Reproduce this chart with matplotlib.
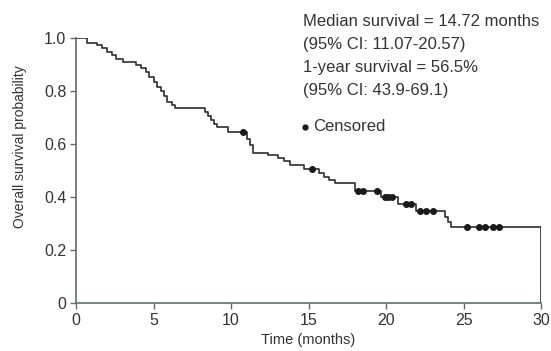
import numpy as np
import matplotlib
matplotlib.use("Agg")
import matplotlib.pyplot as plt

plt.rcParams['font.family'] = ['Liberation Sans', 'DejaVu Sans']

# Kaplan-Meier step curve (time in months, survival after each step)
step_t = [0, 0.7, 1.35, 1.7, 2.0, 2.3, 2.6, 3.0, 3.9, 4.2, 4.5, 4.7, 5.0, 5.2,
          5.5, 5.7, 5.9, 6.2, 6.4, 8.3, 8.5, 8.7, 8.9, 9.1, 9.8, 11.0, 11.2,
          11.4, 12.4, 13.0, 13.4, 13.8, 14.72, 15.7, 16.0, 16.3, 16.7, 18.0,
          19.7, 20.8, 21.9, 23.8, 24.0, 24.2, 30.0]
step_s = [1.0, 0.981, 0.972, 0.962, 0.947, 0.936, 0.922, 0.91, 0.898, 0.886,
          0.873, 0.854, 0.835, 0.816, 0.798, 0.779, 0.760, 0.747, 0.735, 0.72,
          0.705, 0.69, 0.677, 0.665, 0.645, 0.62, 0.596, 0.567, 0.557, 0.546,
          0.534, 0.522, 0.505, 0.49, 0.477, 0.465, 0.453, 0.424, 0.40, 0.375,
          0.345, 0.326, 0.307, 0.287, 0.0]
censor_t = [10.8, 15.2, 18.2, 18.5, 19.4, 19.9, 20.1, 20.4, 21.3, 21.6, 22.2,
            22.6, 23.0, 25.2, 26.0, 26.4, 26.9, 27.3]

info_lines = ["Median survival = 14.72 months",
              "(95% CI: 11.07-20.57)",
              "1-year survival = 56.5%",
              "(95% CI: 43.9-69.1)"]

fig = plt.figure(figsize=(5.51, 3.51), dpi=100)
ax = fig.add_axes([0.138, 0.137, 0.844, 0.755])

line_c = '#2e2e2e'
ax.step(step_t, step_s, where='post', color=line_c, lw=1.2)

# censor marks sit on the curve
idx = np.searchsorted(step_t, censor_t, side='right') - 1
censor_s = np.array(step_s)[idx]
ax.plot(censor_t, censor_s, 'o', color='#1a1a1a', ms=4, ls='none')

ax.set_xlim(0, 30)
ax.set_ylim(0, 1.0)
ax.set_xticks([0, 5, 10, 15, 20, 25, 30])
ax.set_yticks([0, 0.2, 0.4, 0.6, 0.8, 1.0])
ax.set_yticklabels(['0', '0.2', '0.4', '0.6', '0.8', '1.0'])

spine_c = '#5f6f6c'
for s in ['top', 'right']:
    ax.spines[s].set_visible(False)
for s in ['left', 'bottom']:
    ax.spines[s].set_color(spine_c)
    ax.spines[s].set_linewidth(1.2)
ax.tick_params(direction='out', length=4, width=1, color=spine_c,
               labelsize=11.5, labelcolor='#333333', pad=3)

ax.set_xlabel('Time (months)', fontsize=10.5, color='#333333', labelpad=4)
ax.set_ylabel('Overall survival probability', fontsize=10, color='#333333')
ax.yaxis.set_label_coords(-0.105, 0.59)

for i, txt in enumerate(info_lines):
    ax.text(14.65, 1.062 - i * 0.087, txt, fontsize=12, color='#333333',
            va='center', ha='left', clip_on=False)

ax.plot([14.75], [0.665], 'o', color='#1a1a1a', ms=3.5, clip_on=False)
ax.text(15.3, 0.665, 'Censored', fontsize=12, color='#333333',
        va='center', ha='left')

fig.savefig('out.png', dpi=100)
